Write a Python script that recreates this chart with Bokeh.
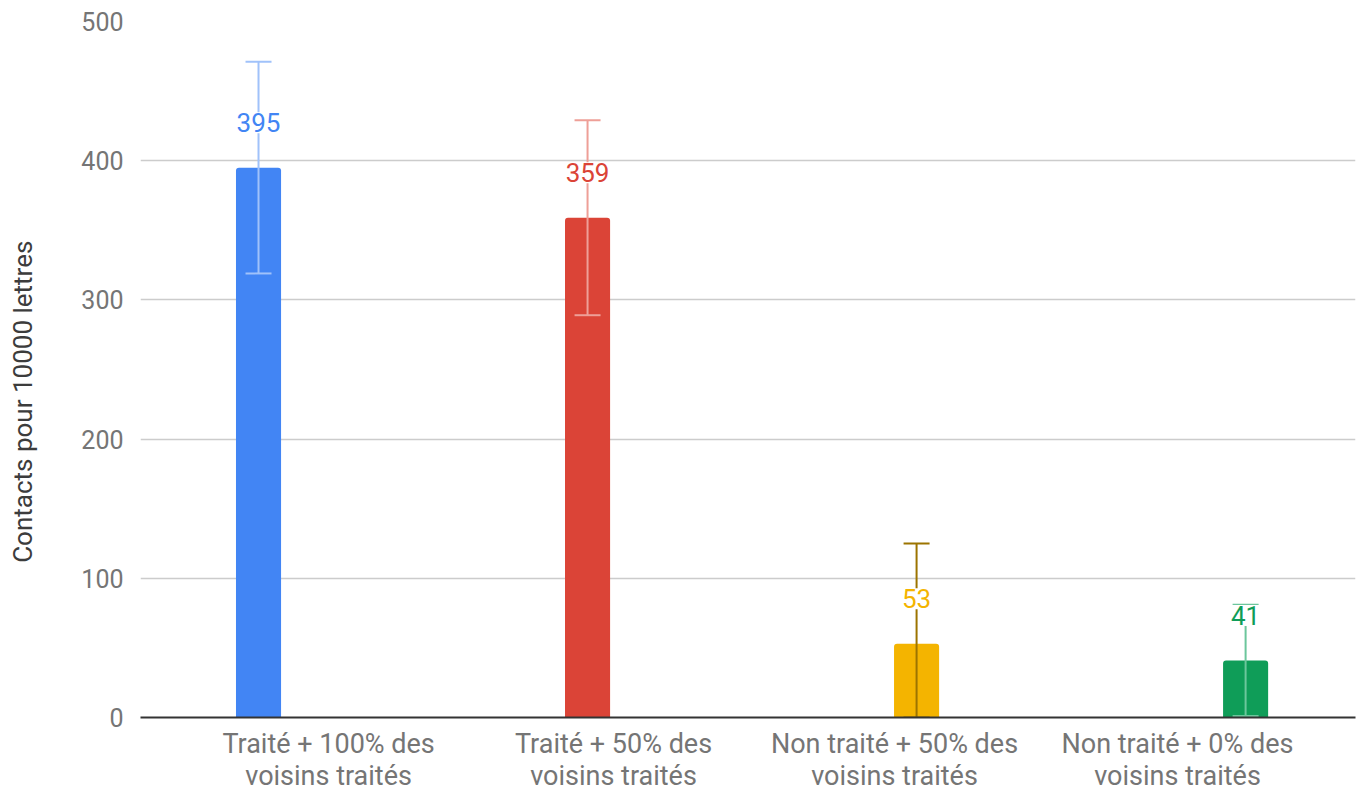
from bokeh.plotting import figure
from bokeh.models import ColumnDataSource, Range1d, FixedTicker
from bokeh.core.properties import value
from bokeh.embed import file_html
from bokeh.resources import INLINE

categories = ["Traité + 100% des\nvoisins traités", "Traité + 50% des\nvoisins traités",
              "Non traité + 50% des\nvoisins traités", "Non traité + 0% des\nvoisins traités"]
values = [395, 359, 53, 41]
err_low = [319, 289, 0, 1]
err_high = [471, 429, 125, 81]
labels = ["395", "359", "53", "41"]
bar_colors = ["#4285F4", "#DB4437", "#F4B400", "#0F9D58"]
err_colors = ["#A0C2FA", "#EE9F97", "#9C7400", "#6CC69C"]
y_ticks = [0, 100, 200, 300, 400, 500]
y_title = "Contacts pour 10000 lettres"

# category labels in the original sit slightly off the bar centres (layout offsets)
LABEL_SHIFT = [0.213, 0.079, -0.067, -0.207]

xs = list(range(len(categories)))
src = ColumnDataSource(dict(x=xs, top=values, lo=err_low, hi=err_high, lab=labels,
                            c=bar_colors, ec=err_colors))

FONT = "Roboto"
p = figure(width=1357, height=795, output_backend="svg", toolbar_location=None,
           x_range=Range1d(-0.3587, 3.334), y_range=Range1d(0, 500),
           min_border_left=140, min_border_right=2, min_border_top=21, min_border_bottom=78)
p.outline_line_color = None
p.background_fill_color = "white"

p.vbar(x="x", top="top", bottom=0, width=0.137, fill_color="c", line_color=None, source=src,
       border_radius=(3, 3, 0, 0))

p.segment(x0="x", y0="lo", x1="x", y1="hi", line_color="ec", line_width=2, source=src)
p.scatter(x="x", y="hi", marker="dash", size=26, line_color="ec", line_width=2, source=src)
p.scatter(x="x", y="lo", marker="dash", size=26, line_color="ec", line_width=2, source=src)

p.text(x="x", y="top", text="lab", source=src, text_color="c", text_font=value(FONT),
       text_font_size="26px", text_align="center", text_baseline="middle", y_offset=-45,
       background_fill_color="white", padding=1)

p.xgrid.visible = False
p.ygrid.grid_line_color = "#cccccc"
p.ygrid.grid_line_width = 1.5
p.ygrid.ticker = FixedTicker(ticks=y_ticks[1:])

p.yaxis.ticker = FixedTicker(ticks=y_ticks)
p.yaxis.axis_line_color = None
p.yaxis.major_tick_line_color = None
p.yaxis.minor_tick_line_color = None
p.yaxis.major_label_text_font = FONT
p.yaxis.major_label_text_font_size = "25px"
p.yaxis.major_label_text_color = "#757575"
p.yaxis.major_label_standoff = 11
p.yaxis.axis_label = y_title + "\u00a0" * 10
p.yaxis.axis_label_text_font = FONT
p.yaxis.axis_label_text_font_size = "26px"
p.yaxis.axis_label_text_font_style = "normal"
p.yaxis.axis_label_text_color = "#3c3c3c"
p.yaxis.axis_label_standoff = 40

label_pos = [x + s for x, s in zip(xs, LABEL_SHIFT)]
p.xaxis.ticker = FixedTicker(ticks=label_pos)
p.xaxis.major_label_overrides = {pos: c for pos, c in zip(label_pos, categories)}
p.xaxis.axis_line_color = "#333333"
p.xaxis.axis_line_width = 2
p.xaxis.major_tick_line_color = None
p.xaxis.minor_tick_line_color = None
p.xaxis.major_label_text_font = FONT
p.xaxis.major_label_text_font_size = "27px"
p.xaxis.major_label_text_line_height = 1.03
p.xaxis.major_label_text_color = "#757575"
p.xaxis.major_label_standoff = 4

open("out.html", "w").write(file_html(p, INLINE))
